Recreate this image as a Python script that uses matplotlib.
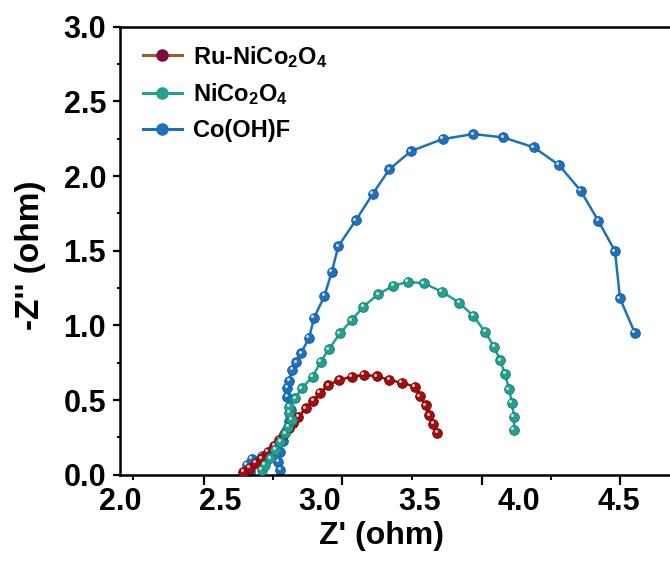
import matplotlib
matplotlib.use("Agg")
import matplotlib.pyplot as plt
import matplotlib.transforms as mtransforms
from matplotlib.lines import Line2D
from matplotlib.ticker import FixedLocator, MultipleLocator, FormatStrFormatter

plt.rcParams['font.family'] = ['Liberation Sans', 'DejaVu Sans']
plt.rcParams['font.weight'] = 'bold'
plt.rcParams['mathtext.fontset'] = 'custom'
plt.rcParams['mathtext.rm'] = 'Liberation Sans:bold'
plt.rcParams['mathtext.bf'] = 'Liberation Sans:bold'
plt.rcParams['mathtext.default'] = 'bf'

# Nyquist data (Z' in ohm, -Z'' in ohm)
ru_x = [2.618, 2.651, 2.681, 2.711, 2.741, 2.772, 2.797, 2.822, 2.847, 2.868,
        2.893, 2.932, 2.968, 3.002, 3.044, 3.099, 3.161, 3.222, 3.286, 3.349,
        3.411, 3.478, 3.503, 3.532, 3.550, 3.570, 3.590]
ru_y = [0.021, 0.046, 0.079, 0.112, 0.153, 0.193, 0.233, 0.273, 0.313, 0.347,
        0.389, 0.445, 0.496, 0.550, 0.601, 0.635, 0.657, 0.668, 0.661, 0.635,
        0.616, 0.590, 0.527, 0.467, 0.400, 0.340, 0.282]

ni_x = [2.710, 2.726, 2.752, 2.777, 2.802, 2.827, 2.843, 2.860, 2.847, 2.848,
        2.877, 2.910, 2.965, 3.006, 3.047, 3.102, 3.161, 3.219, 3.294, 3.369,
        3.441, 3.523, 3.612, 3.700, 3.770, 3.829, 3.874, 3.904, 3.929, 3.949,
        3.964, 3.974, 3.974]
ni_y = [0.032, 0.066, 0.110, 0.166, 0.222, 0.278, 0.322, 0.367, 0.414, 0.456,
        0.512, 0.579, 0.657, 0.757, 0.842, 0.947, 1.036, 1.125, 1.210, 1.264,
        1.292, 1.282, 1.226, 1.152, 1.063, 0.958, 0.857, 0.768, 0.675, 0.574,
        0.481, 0.387, 0.300]

co_x = [2.651, 2.635, 2.661, 2.711, 2.757, 2.792, 2.802, 2.802, 2.817, 2.832,
        2.847, 2.857, 2.837, 2.839, 2.847, 2.862, 2.882, 2.907, 2.947, 2.972,
        3.024, 3.061, 3.094, 3.182, 3.266, 3.349, 3.458, 3.617, 3.770, 3.920,
        4.074, 4.199, 4.308, 4.396, 4.480, 4.505, 4.579]
co_y = [0.019, 0.066, 0.106, 0.126, 0.126, 0.086, 0.032, 0.153, 0.226, 0.293,
        0.360, 0.434, 0.521, 0.581, 0.628, 0.702, 0.755, 0.815, 0.916, 1.050,
        1.197, 1.359, 1.531, 1.705, 1.880, 2.045, 2.167, 2.248, 2.281, 2.259,
        2.192, 2.074, 1.902, 1.701, 1.498, 1.181, 0.951]

labels = ['Ru-NiCo$_2$O$_4$', 'NiCo$_2$O$_4$', 'Co(OH)F']
x_ticks = [2.0, 2.5, 3.0, 3.5, 4.0, 4.5]
# the tick marks in the picture do not sit under the labels
mark_major = [2.421, 3.112, 3.814, 4.505]
mark_minor = [2.065, 2.767, 3.463, 4.159]

c_ru, c_ru_edge, c_ru_leg = '#a30d0d', '#760606', '#9b5a2c'
c_ni, c_ni_edge = '#23a091', '#167a6e'
c_co, c_co_edge = '#1f70bc', '#155c9e'

fig = plt.figure(figsize=(6.7, 5.67), dpi=100)
ax = fig.add_axes([120 / 670, 92.2 / 567, 570 / 670, 448.1 / 567])

shine = ax.transData + mtransforms.ScaledTranslation(-1.1 / 72, 1.1 / 72, fig.dpi_scale_trans)


def draw(x, y, col, edge, z):
    ax.plot(x, y, '-', color=col, lw=1.8, marker='o', ms=7, mfc=col, mec=edge,
            mew=0.6, zorder=z)
    ax.plot(x, y, 'o', ms=2.2, color='white', alpha=0.75, mew=0,
            transform=shine, zorder=z + 0.5)


draw(co_x, co_y, c_co, c_co_edge, 2)
draw(ru_x, ru_y, c_ru, c_ru_edge, 3)
draw(ni_x, ni_y, c_ni, c_ni_edge, 4)

ax.set_xlim(2.0, 2.0 + 570 / 199.6)
ax.set_ylim(0, 3.0)

ax.set_xticks(x_ticks)
ax.set_xticklabels([f'{v:.1f}' for v in x_ticks])
ax.tick_params(axis='x', length=0, pad=9, labelsize=22)
ax.yaxis.set_major_locator(MultipleLocator(0.5))
ax.yaxis.set_minor_locator(MultipleLocator(0.25))
ax.yaxis.set_major_formatter(FormatStrFormatter('%.1f'))
ax.tick_params(axis='y', which='major', direction='out', length=5, width=1.6,
               pad=5, labelsize=22)
ax.tick_params(axis='y', which='minor', direction='out', length=2.5, width=1.4)

sec = ax.secondary_xaxis('bottom')
sec.xaxis.set_major_locator(FixedLocator(mark_major))
sec.xaxis.set_minor_locator(FixedLocator(mark_minor))
sec.tick_params(which='major', direction='out', length=7, width=1.6, labelbottom=False)
sec.tick_params(which='minor', direction='out', length=3.5, width=1.4, labelbottom=False)
sec.spines['bottom'].set_visible(False)

for s in ['left', 'bottom', 'top']:
    ax.spines[s].set_linewidth(1.8)
ax.spines['right'].set_visible(False)

ax.set_xlabel("Z' (ohm)", fontsize=23, fontweight='bold')
ax.xaxis.set_label_coords(0.458, -0.103)
ax.set_ylabel("-Z'' (ohm)", fontsize=24, fontweight='bold')
ax.yaxis.set_label_coords(-0.13, 0.49)

handles = [
    Line2D([], [], color=c_ru_leg, lw=2.2, marker='o', ms=8, mfc='#7a0c40', mec='#7a0c40'),
    Line2D([], [], color=c_ni, lw=2.2, marker='o', ms=8, mfc=c_ni, mec=c_ni),
    Line2D([], [], color=c_co, lw=2.2, marker='o', ms=8, mfc=c_co, mec=c_co),
]
ax.legend(handles, labels, loc='upper left', bbox_to_anchor=(23 / 570, 0.962),
          frameon=False, fontsize=17, handlelength=1.65, handletextpad=0.45,
          labelspacing=0.5, borderpad=0, borderaxespad=0)

fig.savefig('out.png', dpi=100)
